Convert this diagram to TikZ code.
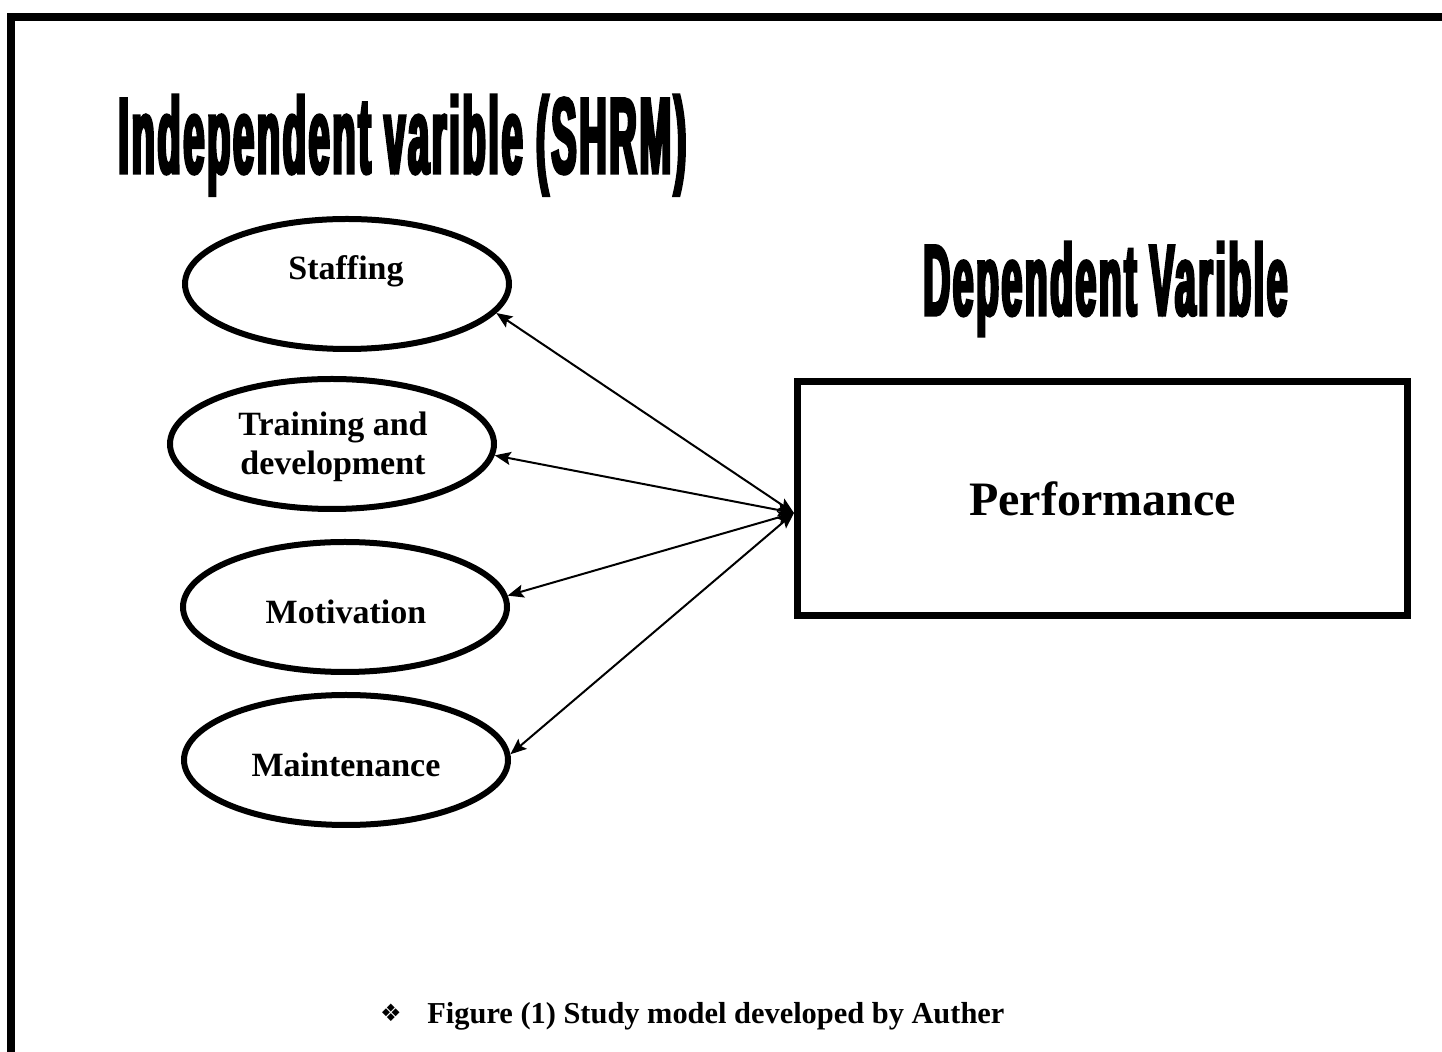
\documentclass[tikz,border=0pt]{standalone}
\usepackage{fontspec}
\setmainfont{Liberation Serif}
\newfontfamily\heavyfont{Liberation Sans}[BoldFeatures={FakeStretch=0.42,FakeBold=3.2,LetterSpace=3}]
\newfontfamily\symfont{DejaVu Sans}
\usetikzlibrary{shapes.geometric,arrows.meta}
\tikzset{
  oval/.style={draw, ellipse, line width=3pt, minimum width=162pt, minimum height=65pt, inner sep=0pt},
  lbl/.style={font=\fontsize{17pt}{19pt}\selectfont\bfseries, anchor=base, inner sep=0pt, align=center},
  link/.style={line width=1pt, {Stealth[length=8pt,width=6.5pt,inset=1.5pt]}-{Stealth[length=8pt,width=6.5pt,inset=1.5pt]}},
  perfbox/.style={draw, line width=3.5pt, minimum width=305pt, minimum height=117pt, inner sep=0pt, font=\fontsize{24pt}{28pt}\selectfont\bfseries},
  bigtitle/.style={anchor=base west, inner sep=0pt}
}
\begin{document}
\begin{tikzpicture}[x=0.5pt,y=-0.5pt]
\useasboundingbox (0,0) rectangle (1442,1052);
\clip (0,0) rectangle (1442,1052);
% frame (continues beyond right and bottom edges)
\draw[line width=4pt] (1500,17) -- (11,17) -- (11,1100);
% titles
\node[bigtitle] (t1) at (118,173) {\resizebox{284pt}{39pt}{\fontsize{54pt}{60pt}\heavyfont\bfseries Independent varible (SHRM)}};
\node[bigtitle] (t2) at (923,315) {\resizebox{182pt}{36.5pt}{\fontsize{50pt}{56pt}\heavyfont\bfseries Dependent Varible}};
% ellipses
\node[oval] (staff) at (347,284) {};
\node[oval] (train) at (332,444) {};
\node[oval] (motiv) at (345,607) {};
\node[oval] (maint) at (346,760) {};
\node[lbl] (stafft) at (346,280) {Staffing};
\node[lbl] (traint1) at (333,436) {Training and};
\node[lbl] (traint2) at (333,475) {development};
\node[lbl] (motivt) at (346,624) {Motivation};
\node[lbl] (maintt) at (346,777) {Maintenance};
% performance box
\node[perfbox] (perf) at (1102.5,498.5) {Performance};
\coordinate (hub) at (794,513);
% connectors
\draw[link] (hub) -- (staff.-11);
\draw[link] (hub) -- (train.-4);
\draw[link] (hub) -- (motiv.4);
\draw[link] (hub) -- (maint.2);
% caption
\node[anchor=center, inner sep=0pt, font=\symfont\fontsize{12pt}{13pt}\selectfont] (bul) at (391,1013) {❖};
\node[anchor=base west, inner sep=0pt, font=\fontsize{15.2pt}{17pt}\selectfont\bfseries] (cap) at (427,1024) {Figure (1) Study model developed by Auther};
\end{tikzpicture}
\end{document}
